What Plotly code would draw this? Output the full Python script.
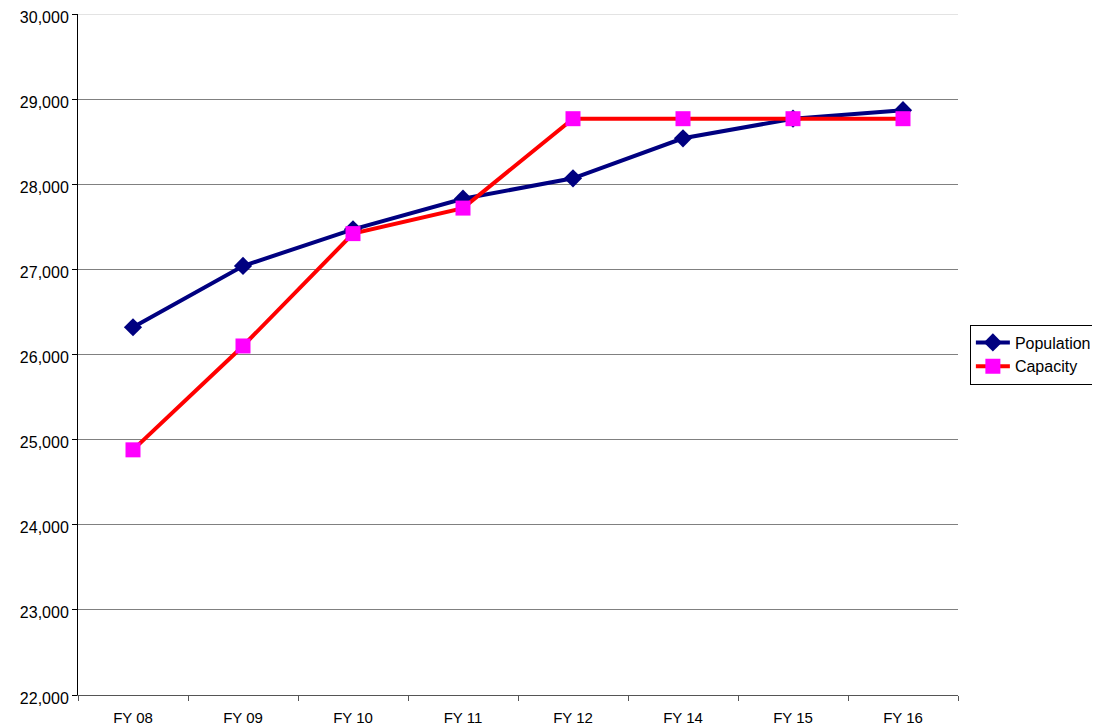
import plotly.graph_objects as go

categories = ["FY 08", "FY 09", "FY 10", "FY 11", "FY 12", "FY 14", "FY 15", "FY 16"]
population = [26320, 27040, 27470, 27830, 28070, 28540, 28770, 28870]
capacity = [24880, 26100, 27420, 27720, 28770, 28770, 28770, 28770]

fig = go.Figure()
fig.add_trace(go.Scatter(
    x=categories, y=population, name="Population", mode="lines+markers",
    line=dict(color="#000080", width=4),
    marker=dict(symbol="diamond", size=14, color="#000080"),
))
fig.add_trace(go.Scatter(
    x=categories, y=capacity, name="Capacity", mode="lines+markers",
    line=dict(color="#FF0000", width=4),
    marker=dict(symbol="square", size=15, color="#FF00FF"),
))

# light top gridline at the 30,000 edge
fig.add_shape(type="line", xref="paper", x0=0, x1=1, yref="y", y0=30000, y1=30000,
              line=dict(color="#c8c8c8", width=1), layer="below")

fig.update_layout(
    width=1100, height=728,
    margin=dict(l=70, r=150, t=6, b=41, autoexpand=False),
    plot_bgcolor="white", paper_bgcolor="white",
    font=dict(family="Liberation Sans, Arial, sans-serif", size=16, color="black"),
    showlegend=True,
    legend=dict(
        x=1.0135, y=0.5, xanchor="left", yanchor="middle",
        bordercolor="black", borderwidth=1, bgcolor="white",
        font=dict(size=16), tracegroupgap=0, itemwidth=34,
    ),
    xaxis=dict(
        type="category", range=[-0.5, 7.5], automargin=False,
        showline=True, linecolor="#555555", linewidth=1,
        ticks="outside", tickson="boundaries", ticklen=5, tickcolor="#555555",
        ticklabelstandoff=9,
        showgrid=False, zeroline=False, tickfont=dict(size=15),
    ),
    yaxis=dict(
        range=[22000, 30000], dtick=1000, tickformat=",d", automargin=False,
        ticklabeloverflow="allow", ticklabelshift=3,
        showline=True, linecolor="black", linewidth=1,
        ticks="outside", ticklen=5, tickcolor="black",
        showgrid=True, gridcolor="#808080", gridwidth=1, zeroline=False,
        tickfont=dict(size=16),
    ),
)

fig.write_html("out.html")
